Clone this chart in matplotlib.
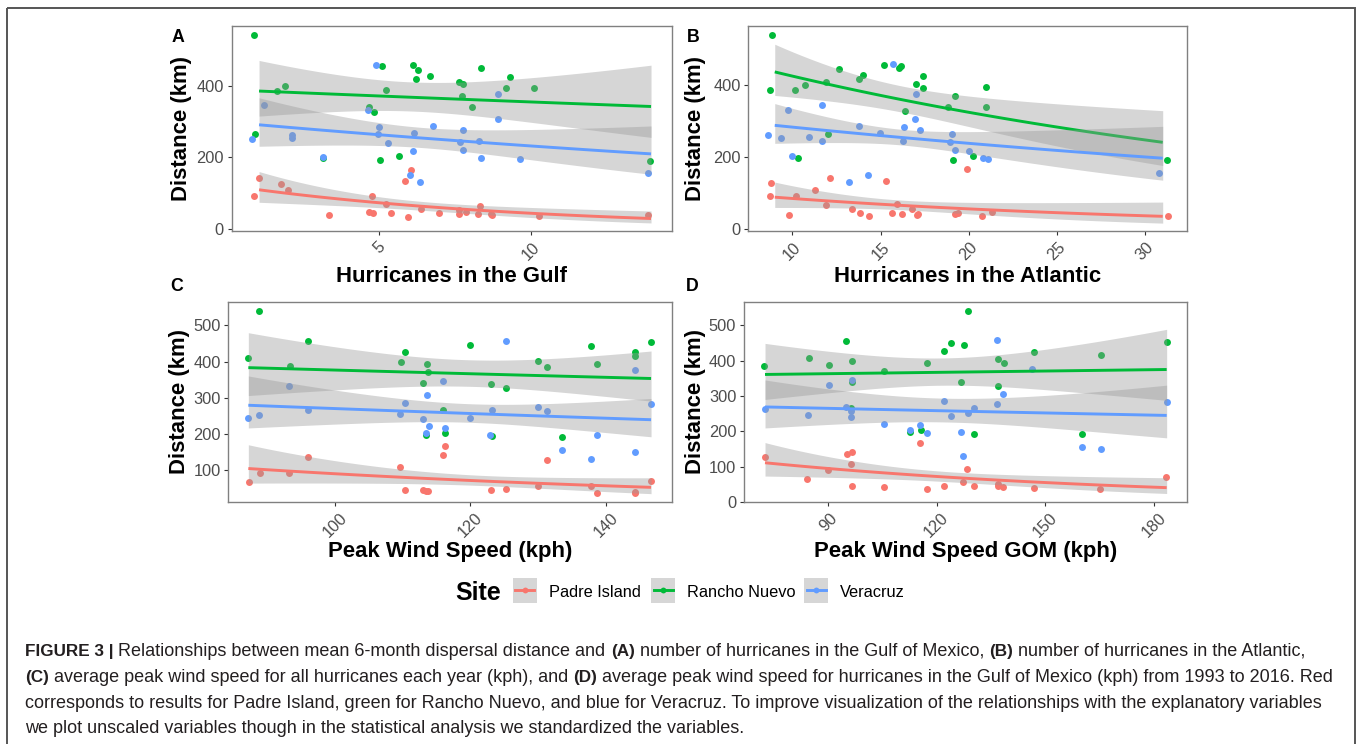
import numpy as np
import matplotlib
matplotlib.use('Agg')
import matplotlib.pyplot as plt
from matplotlib.patches import Rectangle
from matplotlib.lines import Line2D

plt.rcParams['font.family'] = ['Liberation Sans', 'DejaVu Sans']

W, H = 1358, 744
sites = ['Padre Island', 'Rancho Nuevo', 'Veracruz']
site_colors = ['#F8766D', '#00BA38', '#619CFF']

# ---------------- Panel A: hurricanes in the Gulf ----------------
gulf_padre_x = [0.90, 1.05, 1.78, 2.01, 3.34, 4.76, 4.67, 4.81, 5.23, 5.39, 5.95, 5.84, 6.05, 6.37, 6.98, 7.62, 7.63, 7.86, 8.25, 8.32, 8.67, 8.72, 10.25, 13.85]
gulf_padre_y = [92, 143, 127, 109, 40, 92, 47, 45, 71, 46, 35, 135, 166, 56, 45, 55, 43, 48, 43, 66, 43, 39, 36, 39]
gulf_rancho_x = [0.90, 0.92, 1.63, 1.91, 3.15, 4.68, 4.82, 5.02, 5.09, 5.22, 5.64, 6.11, 6.21, 6.27, 6.69, 7.62, 7.76, 7.73, 8.06, 8.36, 9.19, 9.30, 10.09, 13.91]
gulf_rancho_y = [540, 265, 386, 400, 199, 340, 327, 194, 454, 387, 203, 457, 418, 444, 428, 410, 404, 370, 340, 448, 393, 425, 394, 190]
gulf_vera_x = [0.82, 1.21, 2.12, 2.14, 3.17, 4.65, 4.89, 5.01, 4.96, 5.29, 6.03, 6.13, 6.15, 6.36, 6.79, 7.66, 7.76, 7.75, 8.29, 8.34, 8.91, 8.93, 9.63, 13.84]
gulf_vera_y = [252, 345, 262, 255, 202, 332, 458, 284, 265, 241, 151, 217, 267, 131, 287, 244, 276, 221, 245, 198, 377, 307, 196, 156]

# ---------------- Panel B: hurricanes in the Atlantic ----------------
atl_padre_x = [8.79, 8.75, 9.79, 10.19, 11.30, 11.93, 12.12, 13.40, 13.82, 14.37, 15.29, 15.67, 15.93, 16.22, 16.79, 17.09, 17.15, 19.22, 19.38, 19.89, 20.78, 21.32, 31.29]
atl_padre_y = [127, 92, 41, 92, 108, 66, 143, 56, 45, 36, 135, 46, 69, 43, 55, 40, 43, 43, 45, 166, 36, 47, 38]
atl_rancho_x = [8.85, 8.75, 10.15, 10.32, 10.72, 11.91, 12.02, 12.67, 13.80, 14.01, 15.22, 16.05, 16.16, 16.41, 17.00, 17.39, 17.41, 18.83, 19.24, 19.11, 20.26, 21.00, 20.98, 31.23]
atl_rancho_y = [539, 385, 386, 198, 399, 408, 264, 443, 416, 427, 456, 447, 452, 327, 403, 424, 392, 340, 369, 193, 203, 393, 339, 191]
atl_vera_x = [8.62, 9.38, 9.74, 9.98, 10.95, 11.68, 11.68, 13.19, 13.78, 14.29, 14.99, 15.69, 16.28, 16.31, 17.00, 16.98, 17.26, 19.04, 18.96, 19.22, 20.04, 20.79, 21.12, 30.77]
atl_vera_y = [262, 253, 331, 203, 255, 244, 344, 131, 286, 151, 267, 457, 244, 283, 376, 306, 276, 265, 242, 220, 218, 197, 196, 156]

# ---------------- Panel C: peak wind speed ----------------
wind_padre_x = [87.24, 88.87, 93.2, 96.0, 109.6, 110.35, 113.0, 113.45, 113.8, 116.0, 116.25, 123.1, 125.2, 130.05, 131.4, 137.8, 138.7, 144.3, 144.4, 146.7]
wind_padre_y = [66, 92.6, 92.6, 135, 108, 46, 46, 43, 42, 142, 165.5, 46, 47.5, 55, 127, 56, 35.5, 37, 40, 70]
wind_rancho_x = [88.82, 87.14, 93.30, 95.96, 109.70, 110.30, 113.0, 113.55, 113.8, 113.4, 115.9, 116.2, 119.9, 123.0, 123.2, 125.2, 130.05, 131.3, 133.5, 137.8, 138.7, 144.4, 144.3, 146.7]
wind_rancho_y = [540, 409, 387, 456, 399, 427, 340, 392, 370, 198, 265, 202, 447, 339, 193, 326, 402, 385, 191, 442, 394, 425, 416, 453]
wind_vera_x = [87.19, 88.82, 93.2, 95.96, 109.66, 110.3, 113.0, 113.55, 113.9, 113.4, 115.9, 116.3, 119.9, 122.95, 123.15, 125.2, 130.0, 131.4, 133.5, 137.8, 138.7, 144.3, 144.3, 146.7]
wind_vera_y = [245, 252, 331, 267, 255, 286, 241, 306, 221, 202, 345, 217, 244, 198, 265, 457, 275, 262, 155, 130, 196, 376, 151, 283]

# ---------------- Panel D: peak wind speed GOM ----------------
gom_padre_x = [72.6, 84.2, 90.0, 95.2, 96.7, 96.3, 96.6, 105.4, 115.3, 117.4, 121.9, 127.35, 128.5, 130.3, 136.9, 136.9, 138.4, 146.8, 165.2, 183.4]
gom_padre_y = [127, 66, 91.5, 136, 142, 108, 45, 42.5, 166, 37, 45, 56, 92.5, 45, 51, 45, 42.5, 39, 37, 71]
gom_rancho_x = [72.43, 84.66, 90.28, 95.06, 96.62, 96.53, 96.44, 105.46, 112.63, 115.57, 117.32, 122.1, 123.86, 126.61, 127.53, 128.73, 130.2, 136.9, 137.0, 138.5, 146.8, 160.0, 165.3, 183.7]
gom_rancho_y = [386, 409, 387, 457, 400, 341, 265, 371, 199, 203, 394, 428, 449, 340, 443, 541, 193, 405, 327, 393, 425, 191, 417, 454]
gom_vera_x = [72.6, 84.4, 90.2, 95.06, 96.53, 96.3, 96.3, 105.5, 112.6, 115.4, 117.3, 122.0, 123.86, 126.7, 127.4, 128.7, 130.4, 136.6, 136.6, 138.3, 146.4, 160.0, 165.3, 183.7]
gom_vera_y = [263, 245, 332, 268, 345, 258, 241, 221, 204, 218, 195, 287, 244, 198, 131, 253, 266, 458, 276, 307, 377, 156, 151, 284]

# Fitted log-link smooths: (x start, x end, fit start, fit end,
# log half-width of 95% CI at start, minimum, end) for Padre, Rancho, Veracruz
gulf_fits = [(1.05, 13.95, 110, 30, 0.38, 0.19, 0.53),
             (1.05, 13.95, 385, 342, 0.20, 0.11, 0.29),
             (1.05, 13.95, 291, 210, 0.23, 0.11, 0.315)]
atl_fits = [(9.0, 31.0, 89, 36, 0.385, 0.20, 0.74),
            (9.0, 31.0, 436, 241, 0.162, 0.10, 0.31),
            (9.0, 31.0, 288, 197, 0.19, 0.085, 0.37)]
wind_fits = [(87.2, 146.7, 104, 52, 0.49, 0.20, 0.41),
             (87.2, 146.7, 383, 353, 0.225, 0.10, 0.195),
             (87.2, 146.7, 279, 239, 0.255, 0.10, 0.22)]
gom_fits = [(72.6, 183.5, 111, 40.5, 0.415, 0.20, 0.525),
            (72.6, 183.5, 361, 375, 0.218, 0.105, 0.265),
            (72.6, 183.5, 269, 245, 0.25, 0.13, 0.30)]

panel_letters = ['A', 'B', 'C', 'D']
x_titles = ['Hurricanes in the Gulf', 'Hurricanes in the Atlantic',
            'Peak Wind Speed (kph)', 'Peak Wind Speed GOM (kph)']
y_title = 'Distance (km)'
x_ticks = [[5, 10], [10, 15, 20, 25, 30], [100, 120, 140], [90, 120, 150, 180]]
y_ticks = [[0, 200, 400], [0, 200, 400], [100, 200, 300, 400, 500], [0, 100, 200, 300, 400, 500]]
x_lims = [(0.15, 14.63), (7.5, 32.36), (84.24, 149.75), (66.8, 189.2)]
y_lims = [(-5.6, 567), (-5.5, 564), (10.6, 565.4), (-1, 567)]

panel_data = [
    [(gulf_padre_x, gulf_padre_y), (gulf_rancho_x, gulf_rancho_y), (gulf_vera_x, gulf_vera_y)],
    [(atl_padre_x, atl_padre_y), (atl_rancho_x, atl_rancho_y), (atl_vera_x, atl_vera_y)],
    [(wind_padre_x, wind_padre_y), (wind_rancho_x, wind_rancho_y), (wind_vera_x, wind_vera_y)],
    [(gom_padre_x, gom_padre_y), (gom_rancho_x, gom_rancho_y), (gom_vera_x, gom_vera_y)],
]
panel_fits = [gulf_fits, atl_fits, wind_fits, gom_fits]

# layout in pixels: (left, top, right, bottom)
ax_boxes = [(231.7, 25.7, 671.7, 231.3), (748.3, 25.7, 1186.7, 231.3),
            (228.3, 301.7, 671.7, 502.3), (744.0, 301.7, 1187.3, 502.3)]
letter_pos = [(172, 42), (687, 42), (170, 291), (686, 291)]
ylabel_pos = [(181, 128.5), (696, 128.5), (180, 402), (695.5, 402)]
xlabel_base = [282, 282, 557.5, 557.5]

fig = plt.figure(figsize=(W / 100, H / 100), dpi=100)


def smooth_curve(x0, x1, y0, y1, hL, hmin, hR, n=120):
    xs = np.linspace(x0, x1, n)
    eta = np.log(y0) + (np.log(y1) - np.log(y0)) * (xs - x0) / (x1 - x0)
    aL = hL ** 2 - hmin ** 2
    aR = hR ** 2 - hmin ** 2
    r = np.sqrt(aL / aR)
    xc = (x0 + r * x1) / (1 + r)
    k2 = aL / (xc - x0) ** 2
    h = np.sqrt(hmin ** 2 + k2 * (xs - xc) ** 2)
    return xs, np.exp(eta), np.exp(eta - h), np.exp(eta + h)


axes = []
for i in range(4):
    l, t, r, b = ax_boxes[i]
    ax = fig.add_axes([l / W, 1 - b / H, (r - l) / W, (b - t) / H])
    axes.append(ax)
    for s in range(3):
        xs, ys = panel_data[i][s]
        ax.scatter(xs, ys, s=25, color=site_colors[s], linewidths=0, zorder=2)
    for s in range(3):
        cx, cy, lo, hi = smooth_curve(*panel_fits[i][s])
        ax.fill_between(cx, lo, hi, color='#999999', alpha=0.4, linewidth=0, zorder=3 + 2 * s)
        ax.plot(cx, cy, color=site_colors[s], lw=2.1, zorder=4 + 2 * s, solid_capstyle='butt')
    ax.set_xlim(*x_lims[i])
    ax.set_ylim(*y_lims[i])
    ax.set_xticks(x_ticks[i])
    ax.set_yticks(y_ticks[i])
    for sp in ax.spines.values():
        sp.set_color('#808080')
        sp.set_linewidth(1.0)
    ax.tick_params(axis='both', colors='#333333', length=2.6, width=0.8,
                   labelcolor='#4d4d4d', labelsize=11.8)
    ax.tick_params(axis='y', pad=3.0)
    ax.tick_params(axis='x', pad=3.2, labelrotation=45)

# overlay in pixel coordinates for titles, legend, caption, border
ov = fig.add_axes([0, 0, 1, 1], zorder=10)
ov.set_xlim(0, W)
ov.set_ylim(H, 0)
ov.axis('off')
ov.patch.set_visible(False)

ov.add_patch(Rectangle((7, 8), 1348, 760, fill=False, edgecolor='#555555', lw=1.4, clip_on=False))

for i in range(4):
    l, t, r, b = ax_boxes[i]
    ov.text(letter_pos[i][0], letter_pos[i][1], panel_letters[i], fontsize=12.8,
            fontweight='bold', ha='left', va='baseline', color='black')
    ov.text(ylabel_pos[i][0], ylabel_pos[i][1], y_title, fontsize=15.9, fontweight='bold',
            rotation=90, ha='center', va='center', color='black')
    ov.text((l + r) / 2, xlabel_base[i], x_titles[i], fontsize=15.9, fontweight='bold',
            ha='center', va='baseline', color='black')

# legend
ov.text(455, 600, 'Site', fontsize=18, fontweight='bold', ha='left', va='baseline')
key_left = [512.7, 651.0, 804.0]
label_left = [549.3, 687.3, 840.0]
for s in range(3):
    kx = key_left[s]
    ov.add_patch(Rectangle((kx, 577.7), 24, 25, facecolor='#d6d6d6', edgecolor='none'))
    ov.add_line(Line2D([kx + 2.5, kx + 21.5], [590.2, 590.2], color=site_colors[s], lw=2.1))
    ov.add_line(Line2D([kx + 12], [590.2], marker='o', markersize=4.2, color=site_colors[s],
                       markeredgewidth=0))
    ov.text(label_left[s], 597.3, sites[s], fontsize=11.8, ha='left', va='baseline')

# caption with mixed bold/normal
caption_lines = [
    "**FIGURE 3 |** Relationships between mean 6-month dispersal distance and **(A)** number of hurricanes in the Gulf of Mexico, **(B)** number of hurricanes in the Atlantic,",
    "**(C)** average peak wind speed for all hurricanes each year (kph), and **(D)** average peak wind speed for hurricanes in the Gulf of Mexico (kph) from 1993 to 2016. Red",
    "corresponds to results for Padre Island, green for Rancho Nuevo, and blue for Veracruz. To improve visualization of the relationships with the explanatory variables",
    "we plot unscaled variables though in the statistical analysis we standardized the variables.",
]
cap_fs = {False: 13.0, True: 12.3}
cap_base = [656, 682, 708, 733]
renderer = fig.canvas.get_renderer()


def tw(s, bold):
    t = ov.text(0, 100, s, fontsize=cap_fs[bold], fontweight='bold' if bold else 'normal')
    w = t.get_window_extent(renderer=renderer).width
    t.remove()
    return w


space_w = {False: tw('a a', False) - tw('aa', False), True: tw('a a', True) - tw('aa', True)}

for li, line in enumerate(caption_lines):
    x = 25.0
    parts = line.split('**')
    for pi, part in enumerate(parts):
        bold = (pi % 2 == 1)
        if not part:
            continue
        lead = len(part) - len(part.lstrip(' '))
        trail = len(part) - len(part.rstrip(' '))
        core = part.strip(' ')
        x += lead * space_w[bold]
        if core:
            t = ov.text(x, cap_base[li], core, fontsize=cap_fs[bold],
                        fontweight='bold' if bold else 'normal', ha='left', va='baseline',
                        color='#231f20')
            x += t.get_window_extent(renderer=renderer).width
        x += trail * space_w[bold]

fig.savefig('out.png', dpi=100)
